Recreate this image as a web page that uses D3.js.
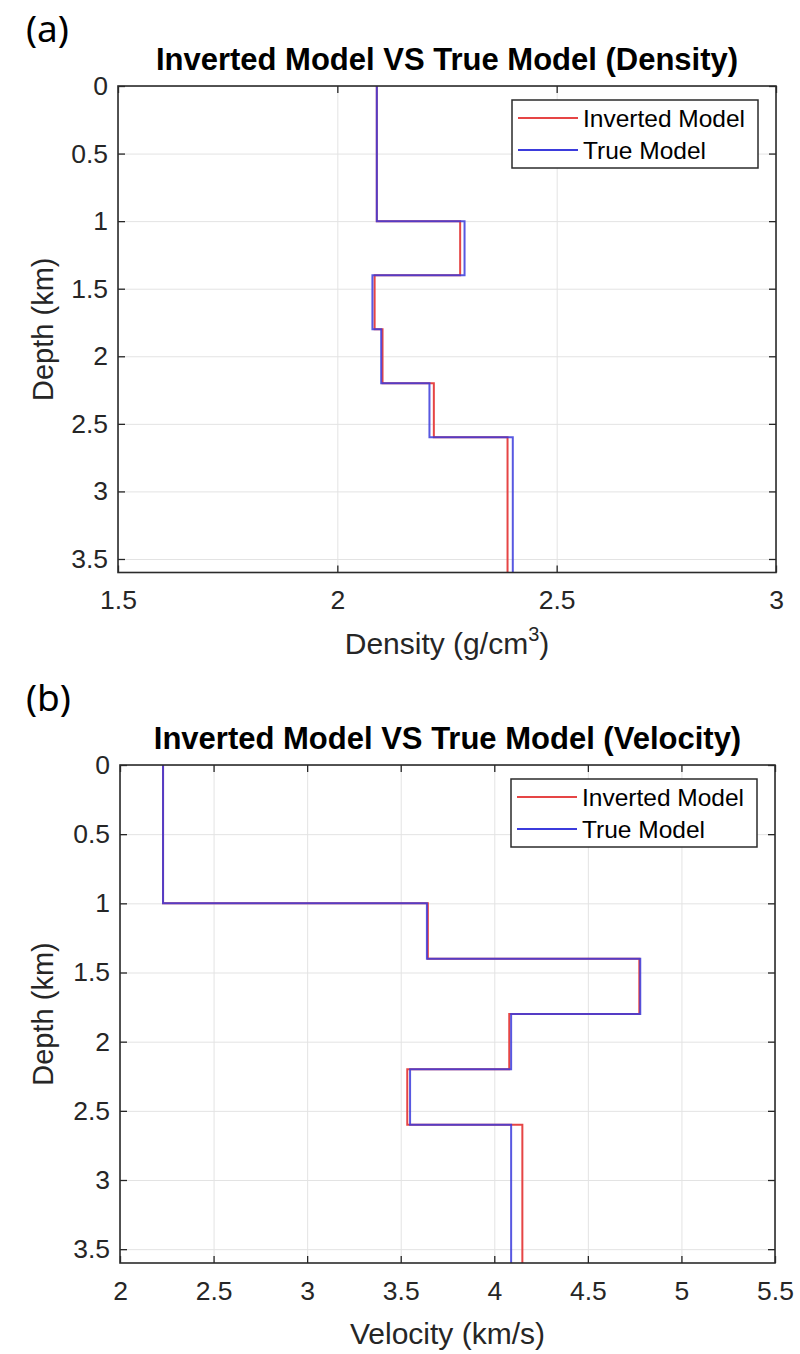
<!DOCTYPE html>
<html>
<head>
<meta charset="utf-8">
<script src="https://cdn.jsdelivr.net/npm/d3@7"></script>
<style>
  body { margin: 0; background: #fff; }
  svg text { font-family: "Liberation Sans", Arial, sans-serif; }
</style>
</head>
<body>
<svg id="fig" width="800" height="1354"></svg>
<script>
// layer boundaries (km), shared by both panels
const depthBounds = [0, 1, 1.4, 1.8, 2.2, 2.6, 3.6];

// density per layer (g/cm3)
const densityTrue = [2.09, 2.29, 2.08, 2.10, 2.21, 2.40];
const densityInverted = [2.09, 2.28, 2.085, 2.103, 2.22, 2.388];

// velocity per layer (km/s)
const velocityTrue = [2.23, 3.64, 4.78, 4.09, 3.55, 4.09];
const velocityInverted = [2.23, 3.645, 4.775, 4.08, 3.535, 4.15];

const depthTicks = [0, 0.5, 1, 1.5, 2, 2.5, 3, 3.5];
const densityTicks = [1.5, 2, 2.5, 3];
const velocityTicks = [2, 2.5, 3, 3.5, 4, 4.5, 5, 5.5];

const svg = d3.select("#fig");

// turns layer values into step points (value, depth)
function steps(values) {
    const pts = [];
    values.forEach((v, i) => {
        pts.push([v, depthBounds[i]]);
        pts.push([v, depthBounds[i + 1]]);
    });
    return pts;
}

function drawPanel(opt) {
    const x = d3.scaleLinear().domain(opt.xDomain).range([opt.left, opt.right]);
    const y = d3.scaleLinear().domain([0, 3.6]).range([opt.top, opt.bottom]);
    const w = opt.right - opt.left, h = opt.bottom - opt.top;
    const g = svg.append("g");

    // panel letter
    g.append("text")
        .attr("x", 26).attr("y", opt.letterY)
        .style("font-family", "'Noto Sans', 'Open Sans', sans-serif")
        .attr("font-size", 37)
        .attr("fill", "#000")
        .text(opt.letter);

    // grid
    g.append("g")
        .attr("transform", `translate(0,${opt.bottom})`)
        .call(d3.axisBottom(x).tickValues(opt.xTicks).tickSize(-h).tickFormat(""))
        .call(s => s.select(".domain").remove())
        .call(s => s.selectAll("line").attr("stroke", "#e3e3e3"));
    g.append("g")
        .attr("transform", `translate(${opt.left},0)`)
        .call(d3.axisLeft(y).tickValues(depthTicks).tickSize(-w).tickFormat(""))
        .call(s => s.select(".domain").remove())
        .call(s => s.selectAll("line").attr("stroke", "#e3e3e3"));

    // lines: inverted below, true on top
    const line = d3.line().x(d => x(d[0])).y(d => y(d[1]));
    g.append("path")
        .attr("d", line(steps(opt.inverted)))
        .attr("fill", "none")
        .attr("stroke", "#e64545")
        .attr("stroke-width", 2);
    g.append("path")
        .attr("d", line(steps(opt.truth)))
        .attr("fill", "none")
        .attr("stroke", "#3b3bdc")
        .attr("stroke-opacity", 0.85)
        .attr("stroke-width", 2);

    // axes with inward ticks
    const tickCol = "#262626";
    const bottomAx = g.append("g")
        .attr("transform", `translate(0,${opt.bottom})`)
        .call(d3.axisBottom(x).tickValues(opt.xTicks).tickSize(-7).tickPadding(18).tickFormat(d => String(d)));
    const leftAx = g.append("g")
        .attr("transform", `translate(${opt.left},0)`)
        .call(d3.axisLeft(y).tickValues(depthTicks).tickSize(-7).tickPadding(10).tickFormat(d => String(d)));
    const topAx = g.append("g")
        .attr("transform", `translate(0,${opt.top})`)
        .call(d3.axisTop(x).tickValues(opt.xTicks).tickSize(-7).tickFormat(""));
    const rightAx = g.append("g")
        .attr("transform", `translate(${opt.right},0)`)
        .call(d3.axisRight(y).tickValues(depthTicks).tickSize(-7).tickFormat(""));
    [bottomAx, leftAx, topAx, rightAx].forEach(a => {
        a.select(".domain").remove();
        a.selectAll("line").attr("stroke", tickCol).attr("stroke-width", 1.3);
        a.selectAll("text")
            .attr("fill", tickCol)
            .attr("font-size", 26.5)
            .style("font-family", "'Liberation Sans', Arial, sans-serif");
    });

    // frame
    g.append("rect")
        .attr("x", opt.left).attr("y", opt.top)
        .attr("width", w).attr("height", h)
        .attr("fill", "none")
        .attr("stroke", "#2b2b2b")
        .attr("stroke-width", 1.6);

    // title
    g.append("text")
        .attr("x", (opt.left + opt.right) / 2)
        .attr("y", opt.top - 16)
        .attr("text-anchor", "middle")
        .attr("font-size", 31)
        .attr("font-weight", "bold")
        .attr("fill", "#000")
        .text(opt.title);

    // x label
    const xl = g.append("text")
        .attr("x", (opt.left + opt.right) / 2)
        .attr("y", opt.bottom + 81)
        .attr("text-anchor", "middle")
        .attr("font-size", 30)
        .attr("fill", tickCol);
    xl.append("tspan").text(opt.xLabel[0]);
    if (opt.xLabel.length > 1) {
        xl.append("tspan").attr("font-size", 20).attr("dy", -13).text(opt.xLabel[1]);
        xl.append("tspan").attr("dy", 13).text(opt.xLabel[2]);
    }

    // y label
    g.append("text")
        .attr("transform", `translate(53,${(opt.top + opt.bottom) / 2}) rotate(-90)`)
        .attr("text-anchor", "middle")
        .attr("font-size", 29)
        .attr("fill", tickCol)
        .text("Depth (km)");

    // legend
    const lg = g.append("g").attr("transform", `translate(${opt.right - 264},${opt.top + 14})`);
    lg.append("rect")
        .attr("width", 246).attr("height", 68)
        .attr("fill", "#fff")
        .attr("stroke", "#2b2b2b")
        .attr("stroke-width", 1.5);
    const items = [
        { name: "Inverted Model", color: "#e64545" },
        { name: "True Model", color: "#3b3bdc" }
    ];
    items.forEach((it, i) => {
        const yy = 18 + i * 32;
        lg.append("line")
            .attr("x1", 6).attr("x2", 66)
            .attr("y1", yy).attr("y2", yy)
            .attr("stroke", it.color)
            .attr("stroke-width", 2);
        lg.append("text")
            .attr("x", 71).attr("y", yy)
            .attr("dominant-baseline", "central")
            .attr("font-size", 24.5)
            .attr("fill", "#000")
            .text(it.name);
    });
}

drawPanel({
    letter: "(a)", letterY: 42,
    title: "Inverted Model VS True Model (Density)",
    xDomain: [1.5, 3], xTicks: densityTicks,
    xLabel: ["Density (g/cm", "3", ")"],
    left: 118, right: 776, top: 86, bottom: 572.5,
    truth: densityTrue, inverted: densityInverted
});

drawPanel({
    letter: "(b)", letterY: 711,
    title: "Inverted Model VS True Model (Velocity)",
    xDomain: [2, 5.5], xTicks: velocityTicks,
    xLabel: ["Velocity (km/s)"],
    left: 120, right: 775, top: 765, bottom: 1263,
    truth: velocityTrue, inverted: velocityInverted
});
</script>
</body>
</html>
